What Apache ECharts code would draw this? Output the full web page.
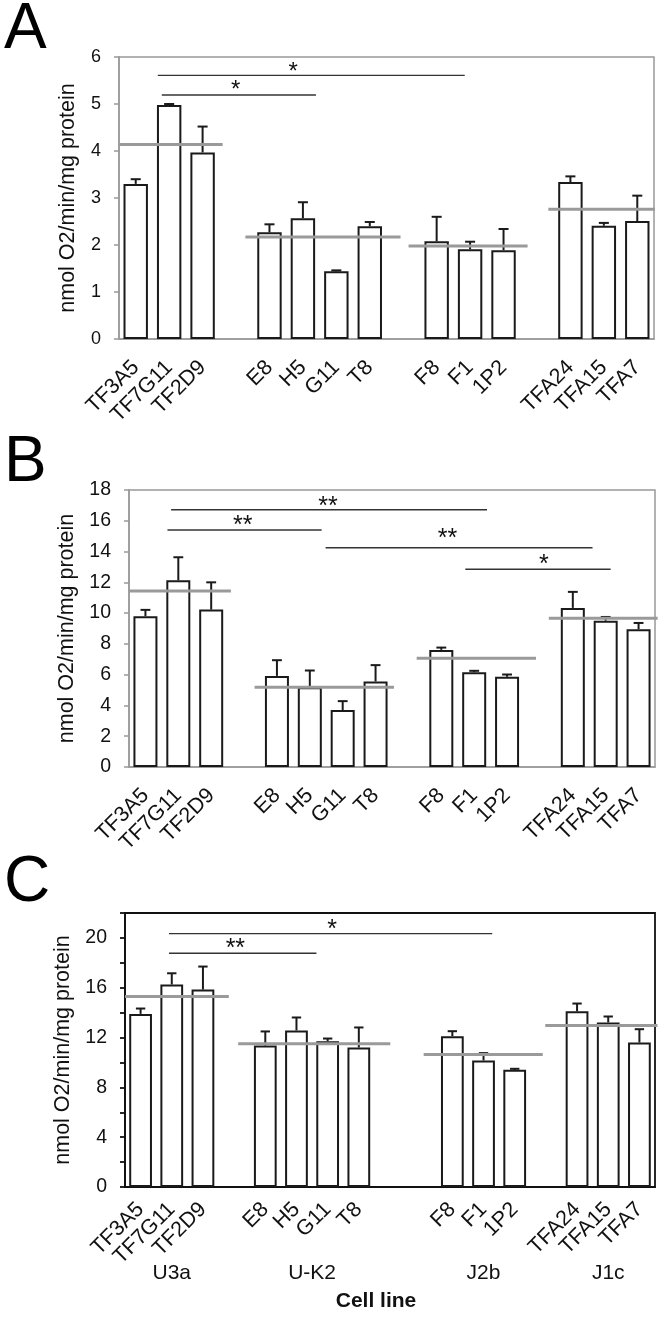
<!DOCTYPE html>
<html><head><meta charset="utf-8">
<script src="https://cdn.jsdelivr.net/npm/echarts@6/dist/echarts.min.js"></script>
<style>html,body{margin:0;padding:0;background:#fff}#c{width:665px;height:1323px}</style>
</head><body><div id="c"></div>
<script>
// ---------------- data ----------------
const cellLineGroups = [
  ['TF3A5', 'TF7G11', 'TF2D9'],
  ['E8', 'H5', 'G11', 'T8'],
  ['F8', 'F1', '1P2'],
  ['TFA24', 'TFA15', 'TFA7']
];
const groupNames = ['U3a', 'U-K2', 'J2b', 'J1c'];

// Panel A
const valuesA = [3.30, 4.98, 3.97, 2.27, 2.57, 1.44, 2.40, 2.08, 1.91, 1.89, 3.34, 2.41, 2.51];
const errorsA = [0.10, 0.02, 0.55, 0.17, 0.34, 0.02, 0.09, 0.52, 0.16, 0.45, 0.12, 0.06, 0.54];
const meansA  = [4.14, 2.17, 1.98, 2.76];
const yMaxA = 6, yStepA = 1, yLabelStepA = 1;

// Panel B
const valuesB = [9.80, 12.13, 10.23, 5.92, 5.19, 3.70, 5.56, 7.61, 6.16, 5.86, 10.34, 9.51, 8.95];
const errorsB = [0.41, 1.50, 1.77, 1.02, 1.08, 0.58, 1.06, 0.15, 0.09, 0.15, 1.04, 0.24, 0.41];
const meansB  = [11.44, 5.19, 7.07, 9.67];
const yMaxB = 18, yStepB = 2, yLabelStepB = 2;

// Panel C
const valuesC = [13.90, 16.26, 15.85, 11.36, 12.57, 11.71, 11.20, 12.11, 10.16, 9.41, 14.11, 13.21, 11.60];
const errorsC = [0.43, 0.90, 1.85, 1.13, 1.04, 0.21, 1.61, 0.40, 0.59, 0.08, 0.62, 0.48, 1.07];
const meansC  = [15.29, 11.50, 10.64, 12.97];
const yMaxC = 22, yStepC = 2, yLabelStepC = 4;

// significance marks (text only; placement in layout below)
const sigTextA = ['*', '*'];
const sigTextB = ['**', '**', '**', '*'];
const sigTextC = ['*', '**'];

const yName = 'nmol O2/min/mg protein';
const xName = 'Cell line';

// ---------------- layout ----------------
const FONT = "'Liberation Sans', Arial, Helvetica, sans-serif";
const layout = [
  { letter: 'A', letterY: -2, gaps: [1, 1, 1],
    grid: { left: 119, top: 57, width: 535, height: 282 },
    axisColor: '#999999', axisWidth: 1.5, tickFont: 18, nameGap: 40, labelMargin: 25,
    meanSpans: [[0, 3.1], [3.78, 8.42], [8.66, 12.22], [12.84, 16.03]],
    // [x0, x1, yLine, xText, yText]
    brackets: [[1.16, 10.34, 5.61, 5.21, 5.77], [1.28, 5.89, 5.19, 3.49, 5.40]],
    starFont: 24 },
  { letter: 'B', letterY: 431, gaps: [1, 1, 1],
    grid: { left: 129, top: 490, width: 526, height: 277 },
    axisColor: '#999999', axisWidth: 1.5, tickFont: 19.5, nameGap: 50, labelMargin: 25,
    meanSpans: [[0, 3.1], [3.82, 8.06], [8.75, 12.38], [12.77, 16.08]],
    brackets: [[1.28, 10.89, 16.72, 6.05, 17.24], [1.17, 5.86, 15.40, 3.46, 16.0],
               [5.98, 14.10, 14.25, 9.69, 15.12], [10.23, 14.65, 12.85, 12.62, 13.45]],
    starFont: 25 },
  { letter: 'C', letterY: 851, gaps: [1, 2, 1],
    grid: { left: 125, top: 913, width: 530, height: 274 },
    axisColor: '#111111', axisWidth: 1.8, tickFont: 19.5, nameGap: 51, labelMargin: 19,
    meanSpans: [[0, 3.33], [3.63, 8.51], [9.58, 13.40], [13.48, 17.08]],
    brackets: [[1.41, 11.78, 20.34, 6.64, 20.99], [1.41, 6.14, 18.77, 3.54, 19.52]],
    starFont: 25, groupLabels: true }
];
const panelData = [
  { values: valuesA, errors: errorsA, means: meansA, yMax: yMaxA, yStep: yStepA, yLabelStep: yLabelStepA, sig: sigTextA },
  { values: valuesB, errors: errorsB, means: meansB, yMax: yMaxB, yStep: yStepB, yLabelStep: yLabelStepB, sig: sigTextB },
  { values: valuesC, errors: errorsC, means: meansC, yMax: yMaxC, yStep: yStepC, yLabelStep: yLabelStepC, sig: sigTextC }
];

function buildSlots(gaps) {
  const cats = [], slotOf = [], ranges = [];
  let s = 0;
  cellLineGroups.forEach((g, gi) => {
    const start = s;
    g.forEach(name => { cats.push(name); slotOf.push(s); s++; });
    ranges.push([start, s]);
    if (gi < gaps.length) for (let k = 0; k < gaps[gi]; k++) { cats.push(''); s++; }
  });
  return { cats, slotOf, ranges, n: s };
}

const grids = [], xAxes = [], yAxes = [], series = [], graphics = [];

layout.forEach((L, i) => {
  const D = panelData[i];
  const S = buildSlots(L.gaps);
  grids.push(Object.assign({ show: true, borderColor: L.axisColor, borderWidth: L.axisWidth,
    backgroundColor: 'transparent', containLabel: false, outerBoundsMode: 'none' }, L.grid));
  const catIdx = xAxes.length;
  xAxes.push({
    type: 'category', gridIndex: i, data: S.cats, position: 'bottom',
    axisLine: { show: true, lineStyle: { color: L.axisColor, width: L.axisWidth } },
    axisTick: { show: false },
    axisLabel: { interval: 0, rotate: 45, margin: L.labelMargin, fontSize: 21.5, color: '#111', fontFamily: FONT },
    splitLine: { show: false },
    name: L.groupLabels ? xName : '', nameLocation: 'middle', nameGap: 104,
    nameTextStyle: { fontSize: 21, fontWeight: 'bold', color: '#111', fontFamily: FONT, padding: [0, 28, 0, 0] }
  });
  const valIdx = xAxes.length;
  xAxes.push({ type: 'value', gridIndex: i, show: false, min: 0, max: S.n, position: 'top' });
  yAxes.push({
    type: 'value', gridIndex: i, min: 0, max: D.yMax, interval: D.yStep,
    axisLine: { show: true, lineStyle: { color: L.axisColor, width: L.axisWidth } },
    axisTick: { show: true, inside: false, length: 5, lineStyle: { color: L.axisColor, width: L.axisWidth } },
    axisLabel: { margin: 18, fontSize: L.tickFont, color: '#111', fontFamily: FONT,
      formatter: v => (Math.round(v) % D.yLabelStep === 0 ? String(v) : '') },
    splitLine: { show: false },
    name: yName, nameLocation: 'middle', nameGap: L.nameGap,
    nameTextStyle: { fontSize: 21.5, color: '#111', fontFamily: FONT }
  });

  // bars
  const barData = S.cats.map(() => '-');
  D.values.forEach((v, k) => { barData[S.slotOf[k]] = v; });
  series.push({
    type: 'bar', xAxisIndex: catIdx, yAxisIndex: i, data: barData, barWidth: '73%',
    itemStyle: { color: '#ffffff', borderColor: '#1a1a1a', borderWidth: 2 }, z: 2, silent: true
  });

  // error bars
  series.push({
    type: 'custom', xAxisIndex: catIdx, yAxisIndex: i, z: 3, silent: true,
    data: D.values.map((v, k) => [S.slotOf[k], v, D.errors[k]]),
    encode: { x: 0, y: 1 },
    renderItem: (params, api) => {
      const x = api.value(0), v = api.value(1), e = api.value(2);
      const b = api.coord([x, v]), t = api.coord([x, v + e]);
      const w = api.size([1, 0])[0] * 0.15;
      return { type: 'group', children: [
        { type: 'line', shape: { x1: b[0], y1: b[1], x2: t[0], y2: t[1] }, style: { stroke: '#1a1a1a', lineWidth: 2 } },
        { type: 'line', shape: { x1: t[0] - w, y1: t[1], x2: t[0] + w, y2: t[1] }, style: { stroke: '#1a1a1a', lineWidth: 2 } }
      ] };
    }
  });

  // group mean lines
  series.push({
    type: 'custom', xAxisIndex: valIdx, yAxisIndex: i, z: 4, clip: false, silent: true,
    data: D.means.map((m, g) => [L.meanSpans[g][0], L.meanSpans[g][1], m]),
    encode: { x: [0, 1], y: 2 },
    renderItem: (params, api) => {
      const p0 = api.coord([api.value(0), api.value(2)]), p1 = api.coord([api.value(1), api.value(2)]);
      return { type: 'line', shape: { x1: p0[0], y1: p0[1], x2: p1[0], y2: p1[1] },
        style: { stroke: '#9a9a9a', lineWidth: 3 } };
    }
  });

  // significance brackets
  series.push({
    type: 'custom', xAxisIndex: valIdx, yAxisIndex: i, z: 5, clip: false, silent: true,
    data: L.brackets,
    encode: { x: [0, 1], y: 2 },
    renderItem: (params, api) => {
      const y = api.value(2);
      const p0 = api.coord([api.value(0), y]), p1 = api.coord([api.value(1), y]);
      const pt = api.coord([api.value(3), api.value(4)]);
      return { type: 'group', children: [
        { type: 'line', shape: { x1: p0[0], y1: p0[1], x2: p1[0], y2: p1[1] }, style: { stroke: '#333', lineWidth: 1.4 } },
        { type: 'text', x: pt[0], y: pt[1] + L.starFont * 0.2,
          style: { text: D.sig[params.dataIndex], fontSize: L.starFont, fontFamily: FONT, fill: '#111',
            align: 'center', verticalAlign: 'middle' } }
      ] };
    }
  });

  // group names under panel C
  if (L.groupLabels) {
    series.push({
      type: 'custom', xAxisIndex: valIdx, yAxisIndex: i, z: 5, clip: false, silent: true,
      data: S.ranges.map(r => [(r[0] + r[1]) / 2, 0]),
      encode: { x: 0, y: 1 },
      renderItem: (params, api) => {
        const p = api.coord([api.value(0), api.value(1)]);
        return { type: 'text', x: p[0], y: p[1] + 86,
          style: { text: groupNames[params.dataIndex], fontSize: 21, fontFamily: FONT, fill: '#111',
            align: 'center', verticalAlign: 'middle' } };
      }
    });
  }

  graphics.push({ type: 'text', x: 4, y: L.letterY,
    style: { text: L.letter, fontSize: 64, fontFamily: FONT, fill: '#000', verticalAlign: 'top' } });
});

const chart = echarts.init(document.getElementById('c'), null, { renderer: 'canvas' });
chart.setOption({
  animation: false,
  backgroundColor: '#ffffff',
  grid: grids, xAxis: xAxes, yAxis: yAxes, series: series, graphic: graphics
});
</script>
</body></html>
